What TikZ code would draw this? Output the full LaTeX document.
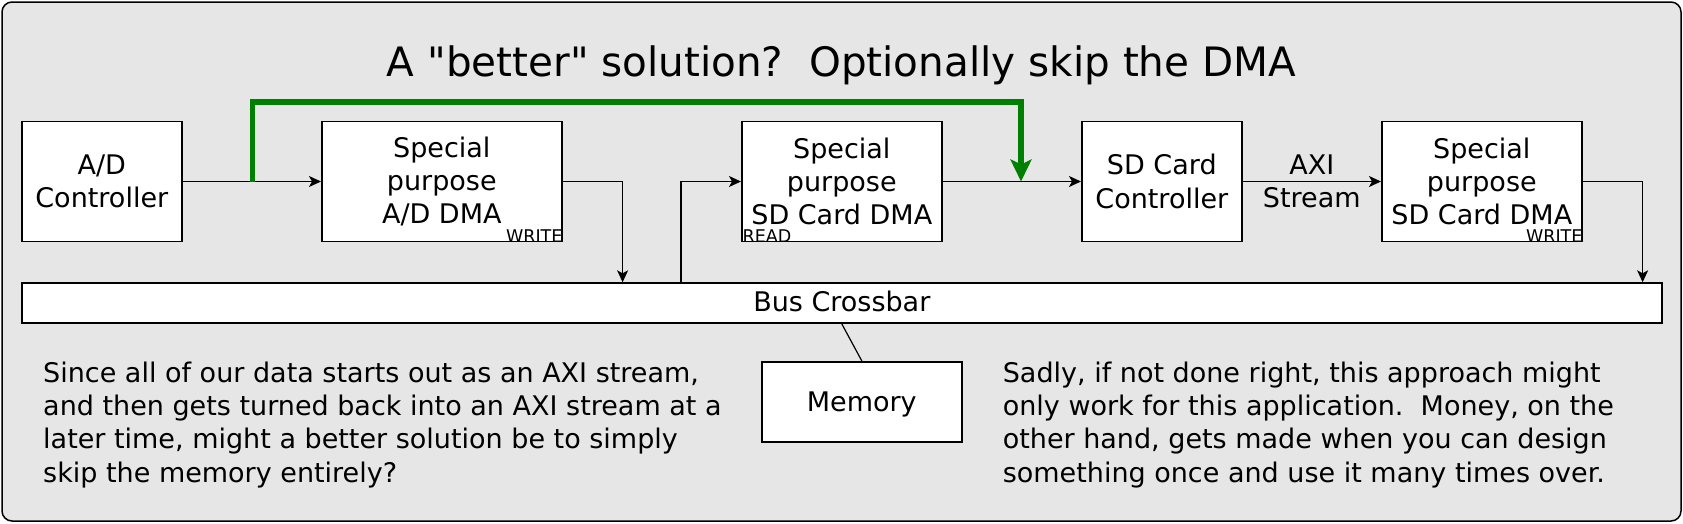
\documentclass[tikz,border=0pt]{standalone}
\usepackage{fontspec}
\setmainfont{DejaVu Sans}
\newfontfamily\rawfont{DejaVu Sans}[Ligatures=ResetAll]
\usepackage{tikz}
\usetikzlibrary{positioning, arrows.meta}
\usepackage{xcolor}
\definecolor{panelgray}{HTML}{E6E6E6}
\definecolor{skipgreen}{HTML}{008000}
\newcommand{\blkfont}{\fontsize{27}{33.3}\selectfont}
\newcommand{\tagfont}{\fontsize{17.5}{19}\selectfont}
\newcommand{\headfont}{\fontsize{40.5}{48}\selectfont}
\tikzset{
  blk/.style={rectangle, draw=black, fill=white, line width=1.6pt,
              minimum width=160pt, minimum height=120pt, inner sep=0pt,
              align=center, font=\blkfont},
  dmablk/.style={blk, minimum width=200pt},
  tag/.style={inner sep=0pt, font=\tagfont},
  note/.style={inner sep=0pt, align=left, font=\blkfont},
  arr/.style={-{Stealth[length=12pt, width=11pt, inset=3pt]}, line width=1.4pt},
  garr/.style={-{Stealth[length=22pt, width=21pt, inset=5pt]}, line width=5.5pt,
               color=skipgreen},
}

\begin{document}
\begin{tikzpicture}[x=1pt, y=-1pt, node distance=40pt and 138.4pt]
    \useasboundingbox (0,0) rectangle (1683,523);
    \draw[fill=panelgray, line width=1.5pt, rounded corners=10pt] (2,2) rectangle (1681,521);
    \node[font=\headfont, anchor=base] (title) at (841.5,76)
          {A {\rawfont"}better{\rawfont"} solution?\ \ Optionally skip the DMA};
    \node[blk] (adc) at (101.8,181.5) {A/D\\Controller};
    \node[blk, minimum width=240pt, right=of adc] (addma) {Special\\purpose\\A/D DMA};
    \node[dmablk, right=178.4pt of addma] (sdrd) {Special\\purpose\\SD Card DMA};
    \node[blk, right=of sdrd] (sdc) {SD Card\\Controller};
    \node[dmablk, right=of sdc] (sdwr) {Special\\purpose\\SD Card DMA};
    \node[tag, anchor=base east] (adtag) at (addma.south east) {WRITE};
    \node[tag, anchor=base west] (rdtag) at ([xshift=1.5pt]sdrd.south west) {READ};
    \node[tag, anchor=base east] (wrtag) at (sdwr.south east) {WRITE};
    \node[blk, minimum width=1640pt, minimum height=40pt, text height=16pt, text depth=0pt,
          anchor=north west] (bus) at ([yshift=-40pt]adc.south west) {Bus Crossbar};
    \node[blk, minimum width=200pt, minimum height=80pt, text height=20pt, text depth=0pt,
          below=37pt of bus, xshift=20pt] (mem) {Memory};
    \draw[arr] (adc) -- (addma);
    \draw[arr] (addma.east) -| ([xshift=60pt]addma.east |- bus.north);
    \draw[arr] ([xshift=-60pt]sdrd.west |- bus.north) |- (sdrd.west);
    \draw[arr] (sdrd) -- (sdc);
    \draw[arr] (sdc) -- node[align=center, font=\blkfont] {AXI\\Stream} (sdwr);
    \draw[arr] (sdwr.east) -| ([xshift=60pt]sdwr.east |- bus.north);
    \draw[line width=1.2pt] (bus.south) -- (mem.north);
    \coordinate (gsplit) at ([xshift=70pt]adc.east);
    \coordinate (gjoin) at ([xshift=-60pt]sdc.west);
    \draw[garr] (gsplit) -- ++(0,-79.5) -| (gjoin);
    \node[note, anchor=north west] (lnote) at (43,361.5)
          {Since all of our data starts out as an AXI stream,\\and then gets turned back into an AXI stream at a\\later time, might a better solution be to simply\\skip the memory entirely?};
    \node[note, anchor=north west] (rnote) at (1002.6,361.5)
          {Sadly, if not done right, this approach might\\only work for this application.\ \ Money, on the\\other hand, gets made when you can design\\something once and use it many times over.};
\end{tikzpicture}
\end{document}
